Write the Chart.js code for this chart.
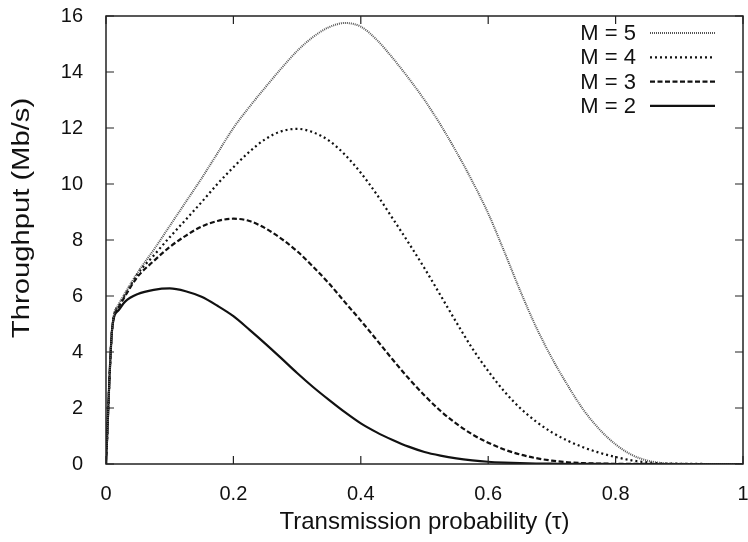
<!DOCTYPE html>
<html><head><meta charset="utf-8">
<script src="https://cdn.jsdelivr.net/npm/chart.js@4.4.0/dist/chart.umd.min.js"></script>
<style>html,body{margin:0;padding:0;background:#fff;} #wrap{width:748px;height:542px;}</style>
</head><body><div id="wrap"><canvas id="c" width="748" height="542"></canvas></div>
<script>
// Transmission probability (tau) sample positions
const tau = [0, 0.01, 0.02, 0.03, 0.05, 0.075, 0.1, 0.125, 0.15, 0.175, 0.2, 0.225, 0.25, 0.275, 0.3, 0.325, 0.35, 0.375, 0.4, 0.425, 0.45, 0.475, 0.5, 0.525, 0.55, 0.575, 0.6, 0.625, 0.65, 0.675, 0.7, 0.725, 0.75, 0.775, 0.8, 0.825, 0.85, 0.875, 0.9, 0.95, 1.0];
// Throughput (Mb/s) per M
const m2 = [0, 4.9, 5.5, 5.8, 6.07, 6.22, 6.27, 6.17, 5.97, 5.65, 5.28, 4.8, 4.3, 3.78, 3.25, 2.75, 2.29, 1.85, 1.45, 1.13, 0.86, 0.62, 0.43, 0.3, 0.2, 0.13, 0.08, 0.05, 0.03, 0.015, 0.01, 0.005, 0.003, 0.001, 0, 0, 0, 0, 0, 0, 0];
const m3 = [0, 4.9, 5.6, 6.0, 6.7, 7.25, 7.75, 8.15, 8.48, 8.68, 8.76, 8.68, 8.42, 8.05, 7.6, 7.05, 6.45, 5.78, 5.12, 4.43, 3.73, 3.06, 2.45, 1.9, 1.44, 1.06, 0.76, 0.52, 0.34, 0.21, 0.12, 0.06, 0.03, 0.015, 0.008, 0.003, 0.001, 0, 0, 0, 0];
const m4 = [0, 4.9, 5.65, 6.05, 6.8, 7.45, 8.1, 8.72, 9.35, 10.0, 10.6, 11.15, 11.6, 11.88, 11.97, 11.85, 11.55, 11.05, 10.4, 9.63, 8.77, 7.9, 6.99, 6.03, 5.06, 4.13, 3.32, 2.6, 2.0, 1.52, 1.13, 0.83, 0.59, 0.4, 0.25, 0.13, 0.06, 0.02, 0.01, 0, 0];
const m5 = [0, 4.9, 5.7, 6.1, 6.85, 7.65, 8.5, 9.35, 10.2, 11.1, 12.0, 12.75, 13.45, 14.12, 14.75, 15.25, 15.6, 15.75, 15.62, 15.15, 14.5, 13.78, 13.0, 12.12, 11.15, 10.1, 8.95, 7.6, 6.2, 4.9, 3.78, 2.8, 1.92, 1.23, 0.7, 0.33, 0.12, 0.03, 0.01, 0, 0];
const seriesLabels = ['M = 5', 'M = 4', 'M = 3', 'M = 2'];
const xTickValues = [0, 0.2, 0.4, 0.6, 0.8, 1];
const yTickValues = [0, 2, 4, 6, 8, 10, 12, 14, 16];
const xTitle = 'Transmission probability (\u03c4)';
const yTitle = 'Throughput (Mb/s)';

const toPts = arr => tau.map((t, i) => ({x: t, y: arr[i]}));
const FONT = '"Liberation Sans", Arial, Helvetica, sans-serif';

const styles = [
  {borderColor: '#555', borderWidth: 2, borderDash: [1, 1]},
  {borderColor: '#111', borderWidth: 2.2, borderDash: [2, 3]},
  {borderColor: '#111', borderWidth: 2.2, borderDash: [5, 2.5]},
  {borderColor: '#111', borderWidth: 2.2, borderDash: []}
];
const seriesData = [m5, m4, m3, m2];
const datasets = seriesData.map((arr, i) => Object.assign({
  label: seriesLabels[i],
  data: toPts(arr),
  pointRadius: 0,
  fill: false,
  cubicInterpolationMode: 'monotone'
}, styles[i]));

const framePlugin = {
  id: 'frame',
  afterDraw(chart) {
    const {ctx, chartArea: a, scales: {x, y}} = chart;
    ctx.save();
    ctx.strokeStyle = '#222';
    ctx.lineWidth = 1.5;
    ctx.strokeRect(a.left, a.top, a.right - a.left, a.bottom - a.top);
    ctx.lineWidth = 1.2;
    const L = 8;
    ctx.beginPath();
    xTickValues.forEach(v => {
      const px = x.getPixelForValue(v);
      ctx.moveTo(px, a.bottom); ctx.lineTo(px, a.bottom - L);
      ctx.moveTo(px, a.top); ctx.lineTo(px, a.top + L);
    });
    yTickValues.forEach(v => {
      const py = y.getPixelForValue(v);
      ctx.moveTo(a.left, py); ctx.lineTo(a.left + L, py);
      ctx.moveTo(a.right, py); ctx.lineTo(a.right - L, py);
    });
    ctx.stroke();
    // legend
    ctx.font = '22px ' + FONT;
    ctx.fillStyle = '#111';
    ctx.textAlign = 'right';
    ctx.textBaseline = 'middle';
    chart.data.datasets.forEach((ds, i) => {
      const ry = a.top + 17 + i * 24.3;
      ctx.fillText(ds.label, a.right - 107, ry + 1);
      ctx.save();
      ctx.strokeStyle = ds.borderColor;
      ctx.lineWidth = ds.borderWidth;
      ctx.setLineDash(ds.borderDash || []);
      ctx.beginPath();
      ctx.moveTo(a.right - 93, ry); ctx.lineTo(a.right - 28, ry);
      ctx.stroke();
      ctx.restore();
    });
    // y title
    ctx.save();
    ctx.font = '23px ' + FONT;
    ctx.textAlign = 'center';
    ctx.textBaseline = 'middle';
    ctx.translate(23, 218);
    ctx.rotate(-Math.PI / 2);
    ctx.scale(1.27, 1);
    ctx.fillText(yTitle, 0, 0);
    ctx.restore();
    ctx.restore();
  }
};

new Chart(document.getElementById('c'), {
  type: 'line',
  data: {datasets},
  options: {
    responsive: false,
    animation: false,
    devicePixelRatio: 1,
    layout: {padding: {left: 0, top: 16, right: 5, bottom: 0}},
    plugins: {legend: {display: false}, tooltip: {enabled: false}},
    scales: {
      x: {
        type: 'linear', min: 0, max: 1,
        afterFit: s => { s.height = 78; s.paddingLeft = 0; s.paddingRight = 5; },
        afterBuildTicks: s => { s.ticks = xTickValues.map(v => ({value: v})); },
        ticks: {padding: 18, color: '#111', font: {family: FONT, size: 20}, maxRotation: 0,
          callback: v => String(v)},
        grid: {display: true, drawOnChartArea: false, drawTicks: false},
        border: {display: false},
        title: {display: true, text: xTitle, color: '#111', font: {family: FONT, size: 24}, padding: {top: 0, bottom: 5}}
      },
      y: {
        type: 'linear', min: 0, max: 16,
        afterFit: s => { s.width = 106; s.paddingTop = 0; s.paddingBottom = 0; },
        afterBuildTicks: s => { s.ticks = yTickValues.map(v => ({value: v})); },
        ticks: {padding: 23, color: '#111', font: {family: FONT, size: 20}, callback: v => String(v)},
        grid: {display: true, drawOnChartArea: false, drawTicks: false},
        border: {display: false},
        title: {display: false}
      }
    }
  },
  plugins: [framePlugin]
});
</script>
</body></html>
